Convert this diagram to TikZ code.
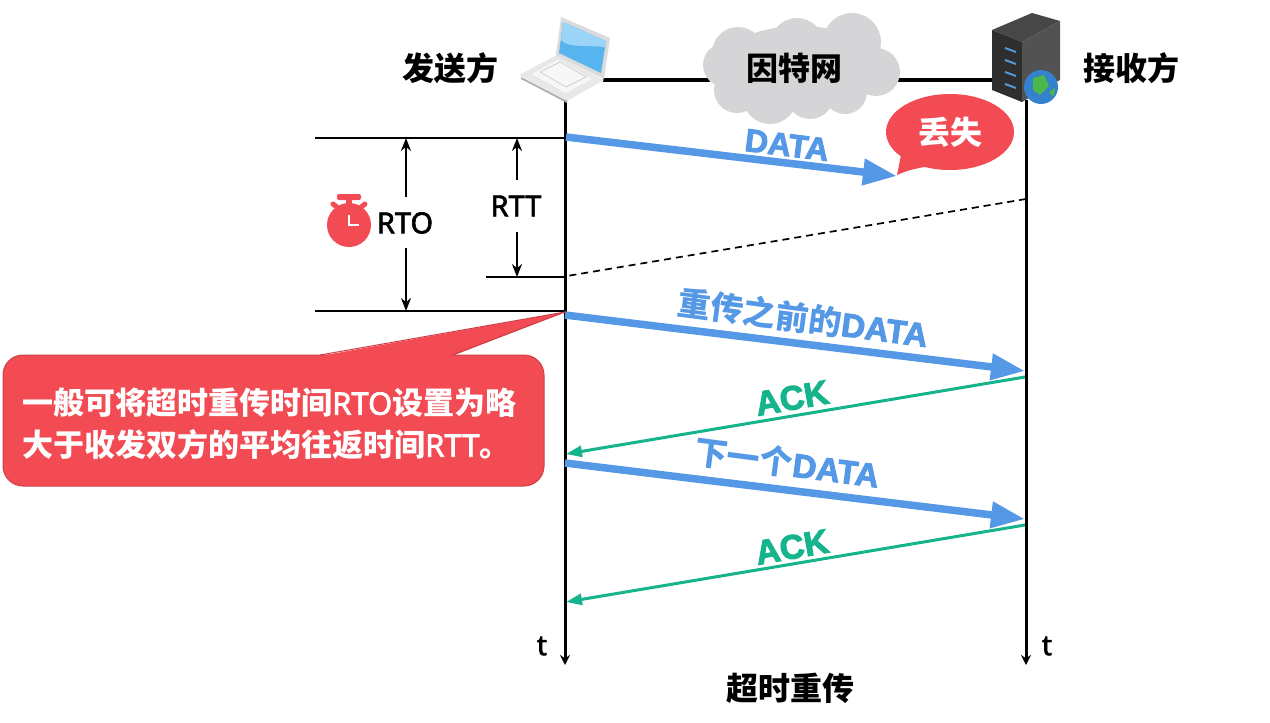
\documentclass[tikz,border=0pt]{standalone}
\usepackage{fontspec}
\usetikzlibrary{arrows.meta,calc}
\newfontfamily\cjkfont{Noto Sans CJK SC}
\newfontfamily\latinfont[FakeBold=3]{Liberation Sans Bold}
\newfontfamily\labelfont[FakeBold=2.2]{Noto Sans}
\definecolor{dataBlue}{HTML}{5598E6}
\definecolor{ackGreen}{HTML}{16B48C}
\definecolor{alertRed}{HTML}{F24B54}
\definecolor{cloudGray}{HTML}{D5D5D7}
\definecolor{screenBlue}{HTML}{58B4EE}
\definecolor{screenGlow}{HTML}{9AD4F6}
\tikzset{
  timeline/.style={line width=3pt,-{Stealth[length=10pt,width=10pt]}},
  measure/.style={line width=1.6pt},
  span/.style={line width=1.7pt,-{Stealth[length=13pt,width=10pt]}},
  dataarrow/.style={draw=dataBlue,line width=7.5pt,-{Triangle[length=34pt,width=25pt]}},
  ackarrow/.style={draw=ackGreen,line width=3pt,-{Triangle[length=16pt,width=11pt]}},
  heading/.style={font=\cjkfont\bfseries\fontsize{32}{36}\selectfont,inner sep=0pt},
  letters/.style={font=\labelfont\fontsize{29}{34}\selectfont,inner sep=0pt},
  datalabel/.style={font=\cjkfont\bfseries\fontsize{33}{36}\selectfont,text=dataBlue,inner sep=0pt,rotate=-7.5},
  acklabel/.style={font=\latinfont\fontsize{34}{40}\selectfont,text=ackGreen,inner sep=0pt,rotate=10},
}
\newcommand{\dat}{{\latinfont DATA}}
\begin{document}
\begin{tikzpicture}[x=1pt,y=-1pt]
\useasboundingbox (0,0) rectangle (1270,723);

% endpoints on the two time axes
\coordinate (senderTop) at (565,100);
\coordinate (senderEnd) at (565,665);
\coordinate (recvTop) at (1026,100);
\coordinate (recvEnd) at (1026,665);
\coordinate (linkA) at (603,80);
\coordinate (linkB) at (710,80);
\coordinate (linkC) at (893,80);
\coordinate (linkD) at (995,80);

% network link
\draw[line width=4pt] (linkA) -- (linkB);
\draw[line width=4pt] (linkC) -- (linkD);

% cloud
\fill[cloudGray]
  (800,68) ellipse [x radius=82,y radius=42]
  (738,53) circle [radius=26]
  (797,45) circle [radius=27]
  (852,42) circle [radius=29]
  (876,72) circle [radius=24]
  (725,65) circle [radius=22]
  (737,90) circle [radius=23]
  (770,97) circle [radius=27]
  (810,95) circle [radius=24]
  (845,92) circle [radius=22];
\node[heading] (net) at (794,68) {因特网};

% time axes
\draw[timeline] (senderTop) -- (senderEnd);
\draw[timeline] (recvTop) -- (recvEnd);

% laptop
\fill[black!9] (519,75) -- (557,55) -- (604,80) -- (567,101) -- cycle;
\fill[black!3] (532,74) -- (558,60) -- (592,79) -- (566,93) -- cycle;
\draw[black!20,line width=.7pt] (540,72) -- (560,62) -- (586,77) -- (566,87) -- cycle;
\fill[black!32] (521,77) -- (567,101) -- (567,103) -- (521,79) -- cycle;
\fill[black!14] (561,17) -- (610,38) -- (604,79) -- (556,55) -- cycle;
\fill[screenBlue] (563,22) -- (606,41) -- (601,73) -- (559,53) -- cycle;
\fill[screenGlow] (563,22) -- (606,41) -- (605,47) .. controls (585,45) and (568,48) .. (561,40) -- cycle;

% server
\fill[black!72] (992,30) -- (1032,13) -- (1060,21) -- (1022,42) -- cycle;
\fill[black!82] (992,30) -- (1022,42) -- (1022,102) -- (992,90) -- cycle;
\fill[black!68] (1022,42) -- (1060,21) -- (1060,80) -- (1022,102) -- cycle;
\foreach \yy in {48,60,72,84}
  \draw[cyan!60!blue!70,line width=2pt] (1005,\yy) -- (1016,\yy+4);
\fill[cyan!55!blue!85] (1041,87) circle [radius=17];
\fill[green!60!black!70] (1033,78) -- (1044,75) -- (1049,86) -- (1040,95) -- (1033,90) -- cycle;
\fill[green!60!black!70] (1049,92) -- (1055,88) -- (1054,97) -- cycle;

% side headings
\node[heading] (sender) at (450,68) {发送方};
\node[heading] (receiver) at (1131,68) {接收方};

% time reference lines
\coordinate (r0) at (315,138);
\coordinate (r1) at (565,138);
\coordinate (t0) at (486,277);
\coordinate (t1) at (565,277);
\coordinate (o0) at (315,311);
\coordinate (o1) at (565,311);
\draw[measure] (r0) -- (r1);
\draw[measure] (t0) -- (t1);
\draw[measure] (o0) -- (o1);

% RTO and RTT spans
\node[letters] (rto) at (405,223) {RTO};
\node[letters] (rtt) at (516,206) {RTT};
\coordinate (rtoTop) at (406,138);
\coordinate (rtoBot) at (406,311);
\coordinate (rttTop) at (517,138);
\coordinate (rttBot) at (517,277);
\draw[span] (406,197) -- (rtoTop);
\draw[span] (406,248) -- (rtoBot);
\draw[span] (517,180) -- (rttTop);
\draw[span] (517,232) -- (rttBot);

% stopwatch
\fill[alertRed] (349,225) circle [radius=22];
\fill[alertRed,rounded corners=2pt] (337,194) rectangle (361,200);
\fill[alertRed] (346,199) rectangle (352,205);
\draw[alertRed,line width=5pt,line cap=round] (333,204) -- (337,207);
\draw[alertRed,line width=5pt,line cap=round] (365,204) -- (361,207);
\draw[white,line width=2pt] (349,215) -- (349,225) -- (359,225);

% lost segment
\coordinate (d1s) at (566,137);
\coordinate (d1e) at (897,176);
\coordinate (lostA) at (1026,199);
\coordinate (lostB) at (567,276);
\draw[line width=1.7pt,dashed,dash pattern=on 7pt off 5pt] (lostA) -- (lostB);
\draw[dataarrow] (d1s) -- (d1e);
\node[font=\latinfont\fontsize{32}{38}\selectfont,text=dataBlue,inner sep=0pt,rotate=-7] (dlab) at (787,145) {DATA};

% speech bubble
\fill[alertRed] (950,132) ellipse [x radius=64,y radius=38];
\fill[alertRed] (897,175) -- (902,150) -- (934,166) .. controls (920,167) and (908,170) .. (897,175) -- cycle;
\node[inner sep=0pt,text=white,font=\cjkfont\bfseries\fontsize{32}{36}\selectfont] (lost) at (950,132) {丢失};

% retransmission and acknowledgements
\coordinate (d2s) at (565,315);
\coordinate (d2e) at (1025,371);
\coordinate (a1s) at (1025,377);
\coordinate (a1e) at (566,454);
\coordinate (d3s) at (565,463);
\coordinate (d3e) at (1025,519);
\coordinate (a2s) at (1025,525);
\coordinate (a2e) at (566,602);
\draw[dataarrow] (d2s) -- (d2e);
\draw[ackarrow] (a1s) -- (a1e);
\draw[dataarrow] (d3s) -- (d3e);
\draw[ackarrow] (a2s) -- (a2e);
\node[datalabel] (l2) at (803,318) {重传之前的\dat};
\node[datalabel] (l3) at (787,463) {下一个\dat};
\node[acklabel] (k1) at (792,398) {ACK};
\node[acklabel] (k2) at (792,547) {ACK};

% callout
\draw[alertRed!85!black,line width=1pt,fill=alertRed,rounded corners=20pt]
  (3,355) rectangle (544,486);
\fill[alertRed] (320,356) -- (565,312) -- (452,356) -- cycle;
\draw[alertRed!85!black,line width=1pt] (320,355) -- (565,312) -- (452,355);
\node[anchor=west,inner sep=0pt,text=white,align=left,
  font=\cjkfont\bfseries\fontsize{31}{42}\selectfont] (note) at (22,424)
  {一般可将超时重传时间{\labelfont RTO}设置为略\\大于收发双方的平均往返时间{\labelfont RTT}。};

% axis letters and caption
\node[font=\labelfont\fontsize{28}{32}\selectfont,inner sep=0pt] (ta) at (542,646) {t};
\node[font=\labelfont\fontsize{28}{32}\selectfont,inner sep=0pt] (tb) at (1047,646) {t};
\node[heading] (caption) at (790,688) {超时重传};
\end{tikzpicture}
\end{document}
